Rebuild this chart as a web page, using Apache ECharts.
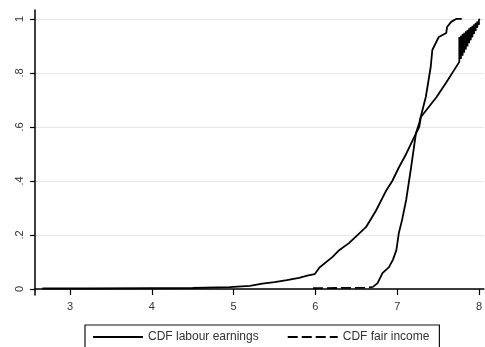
<!DOCTYPE html>
<html>
<head>
<meta charset="utf-8">
<script src="https://cdn.jsdelivr.net/npm/echarts@6/dist/echarts.min.js"></script>
<style>html,body{margin:0;padding:0;background:#fff}</style>
</head>
<body>
<div id="main" style="width:485px;height:347px;"></div>
<script>
// tick positions and labels
var xTicks = [3, 4, 5, 6, 7, 8];
var yTicks = [0, 0.2, 0.4, 0.6, 0.8, 1];
var yTickLabels = ['0', '.2', '.4', '.6', '.8', '1'];

// CDF labour earnings (solid); the end zig-zags between two edges, as in the picture
var labourX = [2.66, 3.2, 4.0, 4.5, 4.95, 5.2, 5.35, 5.5, 5.65, 5.8, 5.9, 5.99, 6.05, 6.21, 6.29, 6.41, 6.54, 6.62, 6.74, 6.87, 6.94, 7.02, 7.11, 7.18, 7.27, 7.29, 7.48, 7.60, 7.76,
    7.76, 7.78, 7.78, 7.80, 7.80, 7.82, 7.82, 7.84, 7.84, 7.86, 7.86, 7.88, 7.88, 7.90, 7.90, 7.92, 7.92, 7.94, 7.94, 7.96, 7.96, 7.98, 7.98, 8.00, 8.00, 8.01];
var labourY = [0.002, 0.002, 0.003, 0.004, 0.007, 0.012, 0.02, 0.026, 0.033, 0.041, 0.05, 0.055, 0.08, 0.119, 0.144, 0.17, 0.207, 0.23, 0.29, 0.367, 0.40, 0.45, 0.50, 0.545, 0.60, 0.637, 0.71, 0.765, 0.841,
    0.933, 0.852, 0.938, 0.864, 0.944, 0.875, 0.949, 0.887, 0.954, 0.898, 0.959, 0.910, 0.965, 0.921, 0.970, 0.932, 0.975, 0.944, 0.980, 0.955, 0.986, 0.967, 0.991, 0.978, 0.996, 1.0];

// CDF fair income: flat dashed start, then the steep part
var fairFlatX = [5.97, 6.3, 6.6, 6.70];
var fairFlatY = [0.003, 0.004, 0.005, 0.007];
var fairX = [6.70, 6.76, 6.82, 6.90, 6.95, 6.99, 7.02, 7.06, 7.11, 7.17, 7.23, 7.27, 7.29, 7.35, 7.41, 7.43, 7.49, 7.51, 7.60, 7.61, 7.66, 7.72, 7.79];
var fairY = [0.007, 0.022, 0.059, 0.081, 0.11, 0.144, 0.207, 0.256, 0.33, 0.45, 0.578, 0.615, 0.64, 0.711, 0.822, 0.885, 0.922, 0.933, 0.948, 0.97, 0.989, 1.0, 1.0];

function pairs(xs, ys) {
    return xs.map(function (x, i) { return [x, ys[i]]; });
}

var font = 'Liberation Sans, Arial, sans-serif';

var option = {
    animation: false,
    grid: { left: 35, right: 1, top: 10, bottom: 52 },
    legend: {
        data: ['CDF labour earnings', 'CDF fair income'],
        left: 85, top: 325,
        itemWidth: 50, itemHeight: 14, itemGap: 28,
        padding: [6, 10, 6, 7],
        borderColor: '#111', borderWidth: 1.2,
        itemStyle: { color: 'rgba(0,0,0,0)', borderColor: 'rgba(0,0,0,0)', borderWidth: 0 },
        textStyle: { fontSize: 12, color: '#333', fontFamily: font }
    },
    xAxis: {
        type: 'value', min: 2.57, max: 8.06,
        axisLine: { lineStyle: { color: '#000', width: 1.5 } },
        axisTick: { customValues: xTicks, length: 6, lineStyle: { color: '#000', width: 1.2 } },
        axisLabel: { customValues: xTicks, fontSize: 11, color: '#333', margin: 6, fontFamily: font },
        splitLine: { show: false }
    },
    yAxis: {
        type: 'value', min: -0.022, max: 1.033,
        axisLine: { show: true, lineStyle: { color: '#000', width: 1.5 } },
        axisTick: { show: true, customValues: yTicks, length: 5, lineStyle: { color: '#000', width: 1.2 } },
        axisLabel: {
            customValues: yTicks, rotate: 90, fontSize: 11, color: '#333', margin: 10, fontFamily: font,
            formatter: function (v) {
                var i = yTicks.indexOf(Math.round(v * 10) / 10);
                return i >= 0 ? yTickLabels[i] : '';
            }
        },
        splitLine: { show: true, lineStyle: { color: '#e6e6e6', width: 1 } }
    },
    series: [
        {
            name: 'CDF labour earnings', type: 'line', symbol: 'none',
            lineStyle: { color: '#000', width: 1.8 },
            itemStyle: { color: '#000' },
            data: pairs(labourX, labourY)
        },
        {
            name: 'CDF fair income', type: 'line', symbol: 'none',
            lineStyle: { color: '#000', width: 1.8, type: [10, 4] },
            itemStyle: { color: '#000' },
            data: pairs(fairFlatX, fairFlatY)
        },
        {
            name: 'CDF fair income', type: 'line', symbol: 'none',
            lineStyle: { color: '#000', width: 1.8 },
            itemStyle: { color: '#000' },
            data: pairs(fairX, fairY)
        }
    ]
};

var myChart = echarts.init(document.getElementById('main'));
myChart.setOption(option);
</script>
</body>
</html>
